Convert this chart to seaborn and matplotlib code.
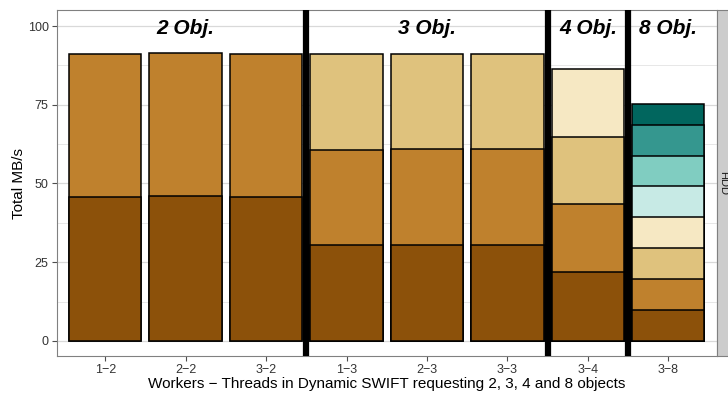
import numpy as np
import pandas as pd
import matplotlib
matplotlib.use("Agg")
import matplotlib.pyplot as plt
from matplotlib.patches import Rectangle
import seaborn as sns

sns.set_style("white")
plt.rcParams["font.family"] = ["Liberation Sans", "DejaVu Sans"]

# ---- data ----
configs = ["1\u22122", "2\u22122", "3\u22122", "1\u22123", "2\u22123", "3\u22123", "3\u22124", "3\u22128"]
nan = np.nan
layer_1 = [45.8, 46.0, 45.6, 30.4, 30.4, 30.4, 21.8, 9.8]
layer_2 = [45.2, 45.6, 45.4, 30.2, 30.4, 30.4, 21.6, 10.0]
layer_3 = [nan, nan, nan, 30.4, 30.2, 30.2, 21.4, 9.8]
layer_4 = [nan, nan, nan, nan, nan, nan, 21.5, 9.7]
layer_5 = [nan, nan, nan, nan, nan, nan, nan, 9.9]
layer_6 = [nan, nan, nan, nan, nan, nan, nan, 9.6]
layer_7 = [nan, nan, nan, nan, nan, nan, nan, 9.8]
layer_8 = [nan, nan, nan, nan, nan, nan, nan, 6.6]
layers = [layer_1, layer_2, layer_3, layer_4, layer_5, layer_6, layer_7, layer_8]
colors = ["#8C510A", "#BF812D", "#DFC27D", "#F6E8C3",
          "#C7EAE5", "#80CDC1", "#35978F", "#01665E"]
group_labels = ["2 Obj.", "3 Obj.", "4 Obj.", "8 Obj."]
group_centers = [1, 4, 6, 7]
group_breaks = [2.5, 5.5, 6.5]
strip_label = "HDD"

rows = []
for li, vals in enumerate(layers):
    for c, v in zip(configs, vals):
        if not np.isnan(v):
            rows.append({"config": c, "layer": li, "value": v})
df = pd.DataFrame(rows)
df["cum"] = df.groupby("config")["value"].cumsum()

# ---- figure ----
W, H = 728, 394
fig = plt.figure(figsize=(W / 100, H / 100), dpi=100)
L, R, T, B = 57, 716.5, 10, 356
ax = fig.add_axes([L / W, (H - B) / H, (R - L) / W, (B - T) / H])

for li in reversed(range(len(layers))):
    sub = df[df["layer"] == li]
    sns.barplot(data=sub, x="config", y="cum", order=configs, color=colors[li],
                saturation=1, edgecolor="black", linewidth=1.1, width=0.9,
                errorbar=None, ax=ax, zorder=3)

for xb in group_breaks:
    ax.axvline(xb, color="black", lw=4.5, zorder=4)

for lab, xc in zip(group_labels, group_centers):
    ax.text(xc, 97.4, lab, ha="center", va="baseline", fontsize=15,
            fontweight="bold", fontstyle="italic", color="black", zorder=5)

ax.set_xlim(-0.6, len(configs) - 0.4)
ax.set_ylim(-4.8, 105.1)
ax.set_yticks([0, 25, 50, 75, 100])
ax.set_yticks([12.5, 37.5, 62.5, 87.5], minor=True)
ax.grid(axis="y", which="major", color="#D9D9D9", lw=0.9, zorder=0)
ax.grid(axis="y", which="minor", color="#E3E3E3", lw=0.6, zorder=0)
ax.grid(axis="x", visible=False)
ax.set_axisbelow(True)

ax.tick_params(axis="both", which="major", bottom=True, left=True,
               direction="out", length=3.5, width=0.8, color="#4D4D4D",
               labelsize=9, labelcolor="#333333", pad=2.5)
ax.tick_params(axis="both", which="minor", length=0)
for s in ax.spines.values():
    s.set_color("#808080")
    s.set_linewidth(0.8)

ax.set_xlabel("Workers \u2212 Threads in Dynamic SWIFT requesting 2, 3, 4 and 8 objects",
              fontsize=11, labelpad=0.5, color="black")
ax.set_ylabel("Total MB/s", fontsize=11, labelpad=1, color="black")

# facet strip on the right
fig.patches.append(Rectangle((R / W, (H - B) / H), 30 / W, (B - T) / H,
                             transform=fig.transFigure, facecolor="#CCCCCC",
                             edgecolor="#808080", lw=0.8, zorder=1))
fig.text(723.5 / W, (H - (T + B) / 2) / H, strip_label, rotation=-90, ha="center",
         va="center", fontsize=8, color="#1A1A1A")

fig.savefig("out.png", dpi=100)
